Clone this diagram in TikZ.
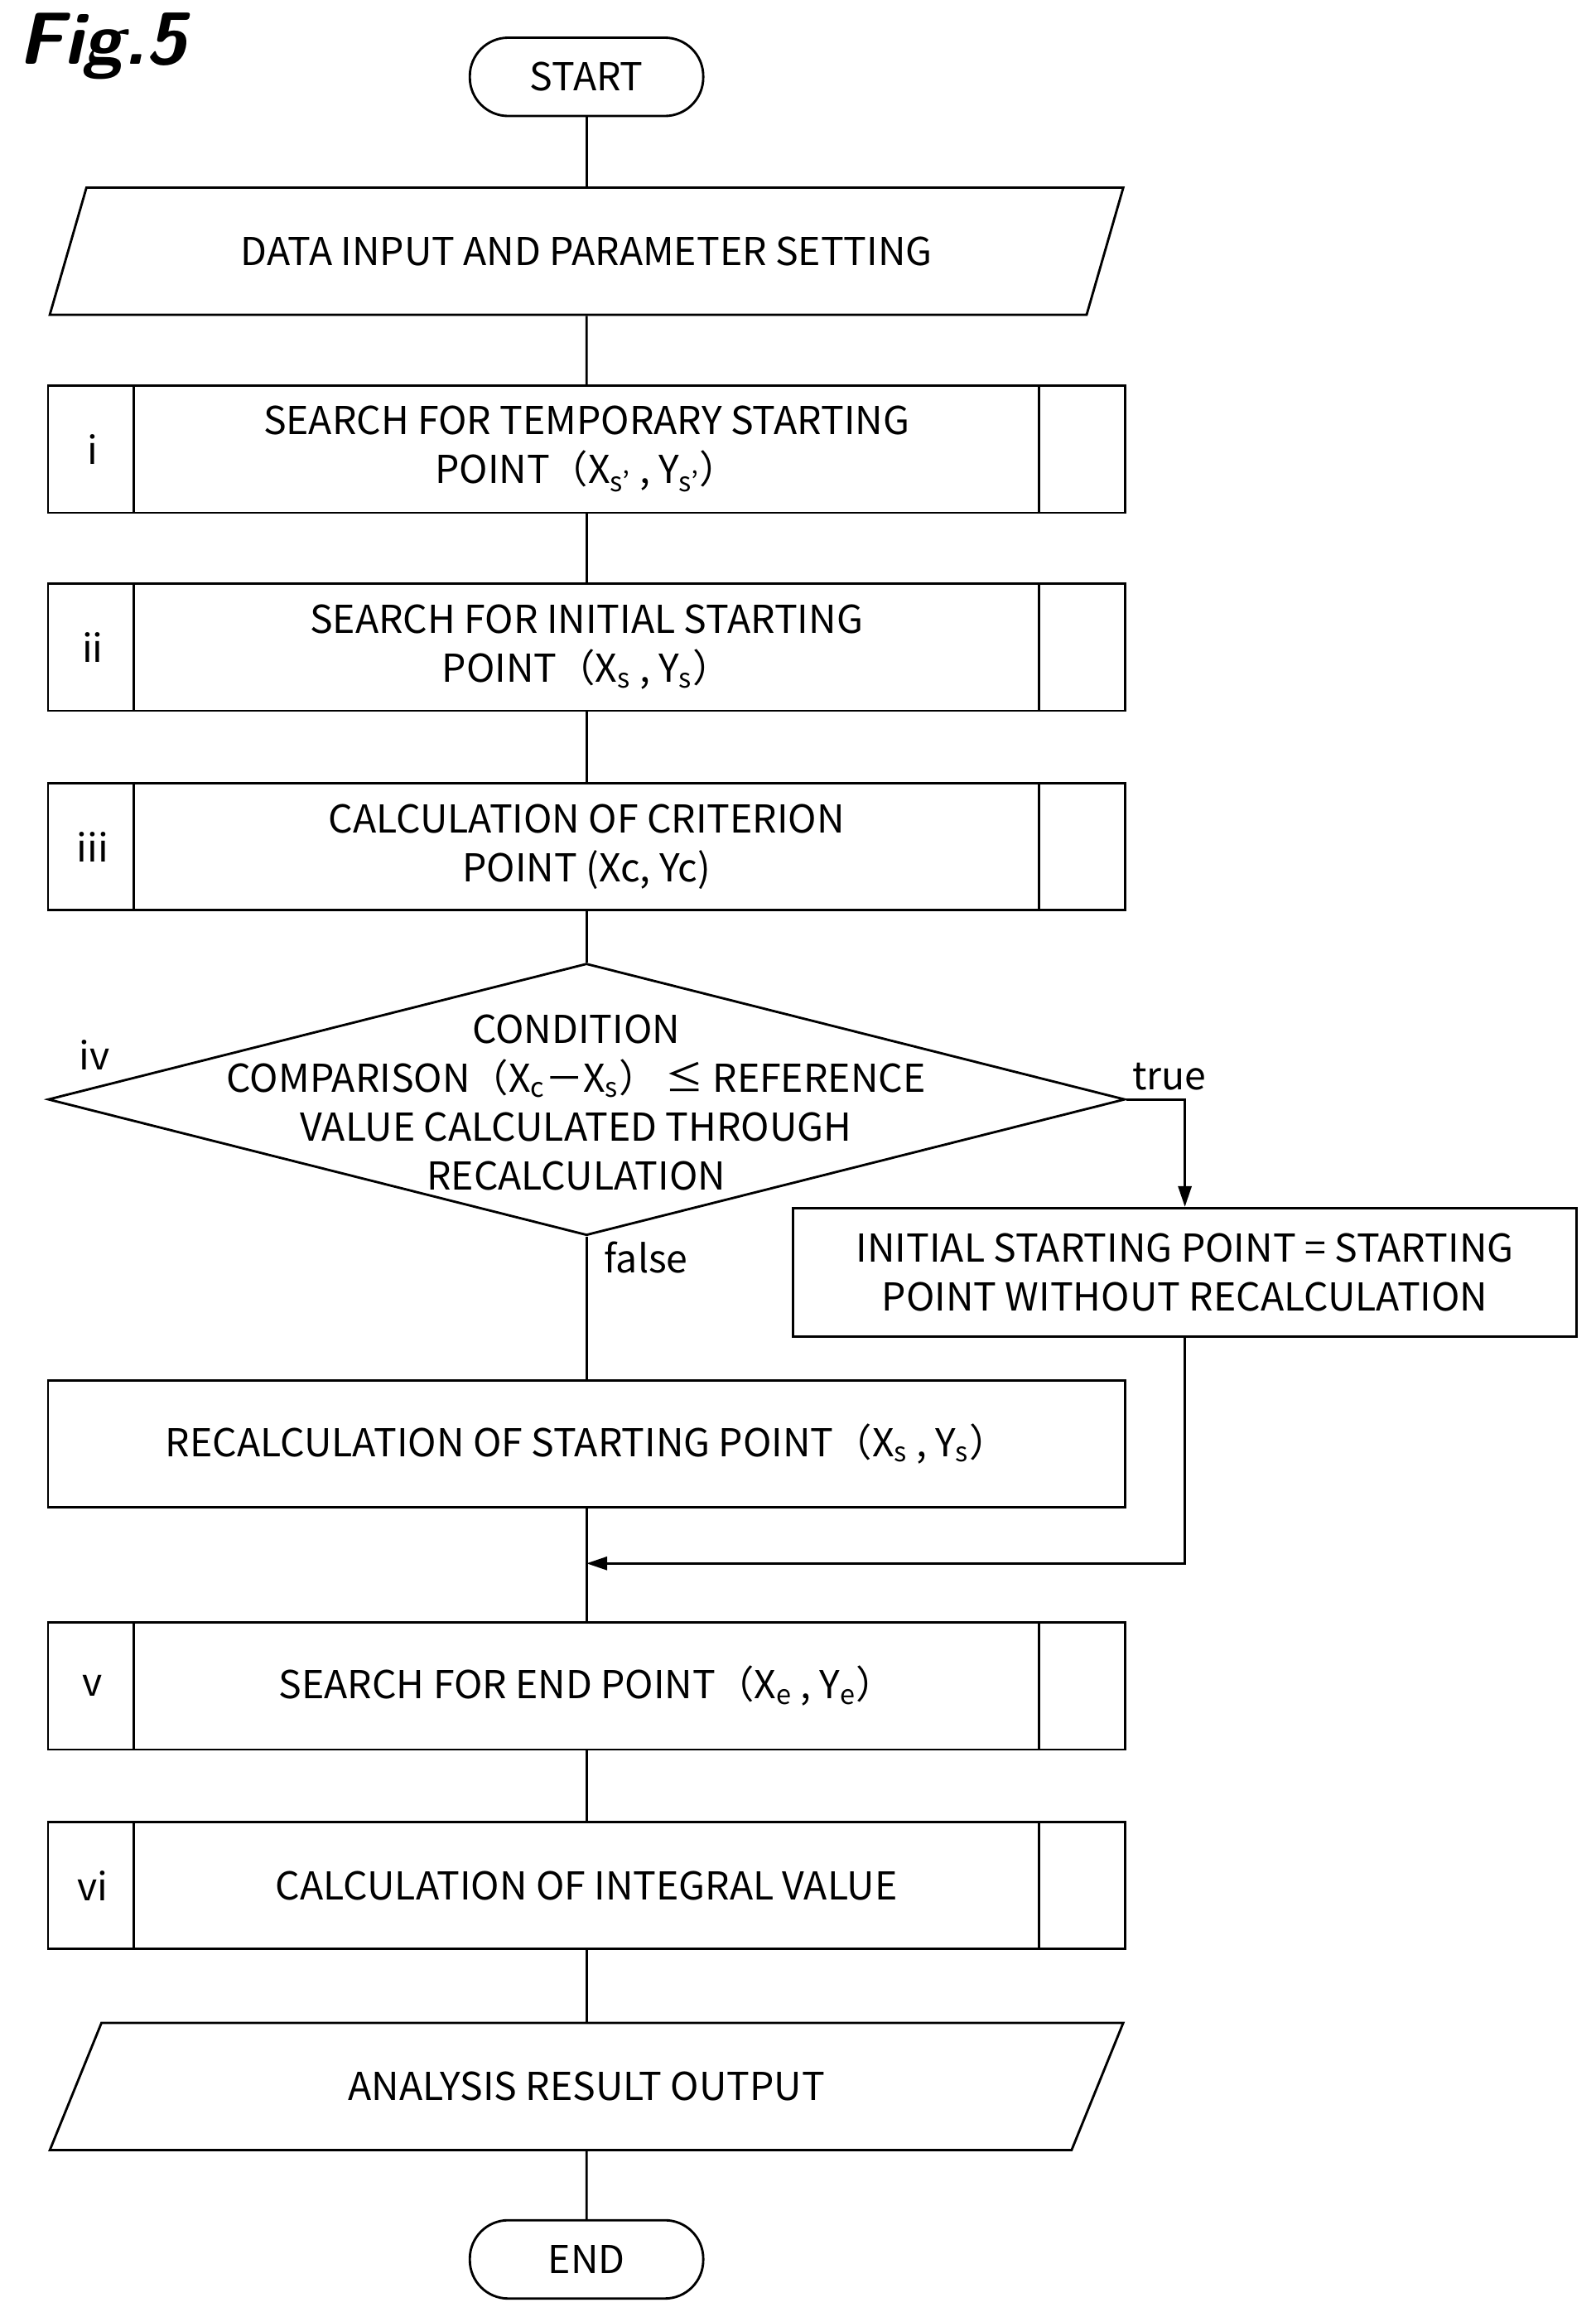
\documentclass[tikz,border=0pt]{standalone}
\usepackage{fontspec}
\setmainfont{Noto Sans CJK JP}
\usetikzlibrary{shapes.geometric}
\usetikzlibrary{arrows.meta}
\usetikzlibrary{positioning}
\tikzset{
% Define standard arrow tip
>={Triangle[length=14pt,width=9pt]},
proc/.style={rectangle, draw=black, line width=1.6pt, align=center,
  minimum width=729pt, minimum height=86pt, inner sep=0},
io/.style={trapezium, trapezium left angle=49, trapezium right angle=131,
  trapezium stretches=true, draw=black, line width=1.6pt,
  minimum width=729pt, minimum height=86pt, inner sep=0},
term/.style={rectangle, rounded corners=26pt, draw=black, line width=1.6pt,
  minimum width=158pt, minimum height=53pt, inner sep=0}
}
\begin{document}
\begin{tikzpicture}[x=1pt, y=-1pt, line width=1.6pt,
  every node/.style={font=\fontsize{26}{33}\selectfont}]
  \useasboundingbox (0,0) rectangle (1080,1568);

  \node[anchor=north west, inner sep=0, font=\fontsize{50}{50}\sffamily\bfseries\itshape] (fig) at (12,8) {Fig.5};

  \node[term] (start) at (397,52) {START};
  \node[io] (input) at (397,170) {DATA INPUT AND PARAMETER SETTING};
  \node[proc] (s1) at (397,304) {SEARCH FOR TEMPORARY STARTING\\POINT（X\textsubscript{s'} , Y\textsubscript{s'}）};
  \node[proc] (s2) at (397,438) {SEARCH FOR INITIAL STARTING\\POINT（X\textsubscript{s} , Y\textsubscript{s}）};
  \node[proc] (s3) at (397,573) {CALCULATION OF CRITERION\\POINT (Xc, Yc)};

  \node[diamond, draw=black, inner sep=0, minimum width=729pt, minimum height=184pt] (cmp) at (397,744) {};
  \node[align=center, inner sep=0] (cmp-text) at (390,746) {CONDITION\\COMPARISON（X\textsubscript{c}－X\textsubscript{s}） ≤ REFERENCE\\VALUE CALCULATED THROUGH\\RECALCULATION};

  \node[proc, minimum width=530pt, minimum height=87pt] (norecalc) at (802,861) {INITIAL STARTING POINT = STARTING\\POINT WITHOUT RECALCULATION};
  \node[proc] (recalc) at (397,977) {RECALCULATION OF STARTING POINT（X\textsubscript{s} , Y\textsubscript{s}）};
  \node[proc] (s5) at (397,1141) {SEARCH FOR END POINT（X\textsubscript{e} , Y\textsubscript{e}）};
  \node[proc] (s6) at (397,1276) {CALCULATION OF INTEGRAL VALUE};
  \node[io] (output) at (397,1412) {ANALYSIS RESULT OUTPUT};
  \node[term] (stop) at (397,1529) {END};

  % subroutine bars and step numbers
  \foreach \n/\t in {s1/i, s2/ii, s3/iii, s5/v, s6/vi} {
    \draw ([xshift=59pt]\n.north west) -- ([xshift=59pt]\n.south west);
    \draw ([xshift=-59pt]\n.north east) -- ([xshift=-59pt]\n.south east);
    \node (\n-num) at ([xshift=31pt]\n.west) {\t};
  }
  \node (cmp-num) at (64,714) {iv};

  % main flow
  \draw (start) -- (input);
  \draw (input) -- (s1);
  \draw (s1) -- (s2);
  \draw (s2) -- (s3);
  \draw (s3) -- (cmp);
  \draw (cmp.south) -- (recalc.north) node[pos=0.15, right=8pt] {false};
  \draw (recalc) -- (s5);
  \draw (s5) -- (s6);
  \draw (s6) -- (output);
  \draw (output) -- (stop);

  % true branch
  \draw[->] (cmp.east) node[above right=2pt and 0pt] (true-lbl) {true} -| (norecalc.north);
  \coordinate (join) at (recalc.south |- 0,1058);
  \draw[->] (norecalc.south) |- (join);
\end{tikzpicture}
\end{document}
